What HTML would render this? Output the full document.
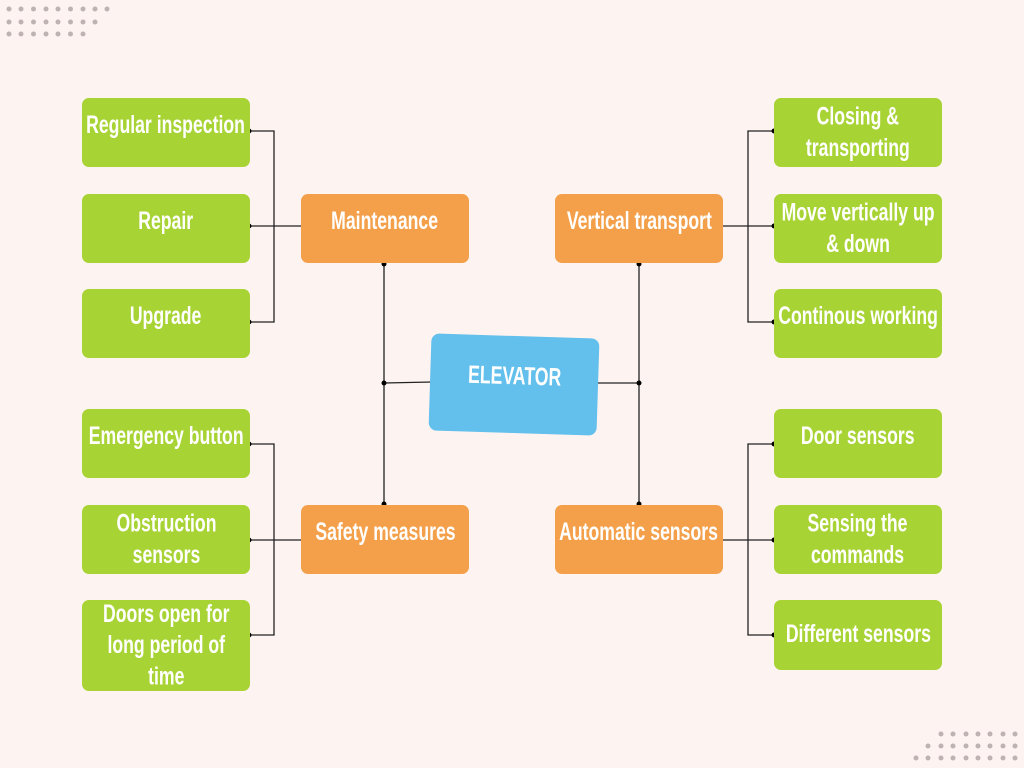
<!DOCTYPE html>
<html><head><meta charset="utf-8"><style>
body{margin:0;width:1024px;height:768px;background:#fdf4f2;position:relative;overflow:hidden;font-family:"Liberation Sans Narrow","Liberation Sans",sans-serif;}
.b{position:absolute;border-radius:7px;display:flex;align-items:center;justify-content:center;text-align:center;color:#fff;font-weight:bold;font-size:21px;line-height:26px;box-sizing:border-box;white-space:nowrap;}
.b span{display:inline-block;transform:scale(0.84,1.2);}
.g{background:#a8d334;width:168px;}
.o{background:#f4a04a;width:168px;}
svg{position:absolute;left:0;top:0}
</style></head><body>
<svg width="1024" height="768">
<g stroke="#222" stroke-width="1.3" fill="none">
<path d="M249 131H274V322H249M249 226H301M249 322H274"/>
<path d="M249 444H274V635H249M249 540H301"/>
<path d="M774 131H748V322H774M774 226H722"/>
<path d="M774 444H748V635H774M774 540H722"/>
<path d="M384 264V504M384 383L432 382"/>
<path d="M639 264V504M597 383H639"/>
</g>
<g fill="#000">
<circle cx="249" cy="131" r="2.5"/><circle cx="249" cy="226" r="2.5"/><circle cx="249" cy="322" r="2.5"/>
<circle cx="249" cy="444" r="2.5"/><circle cx="249" cy="540" r="2.5"/><circle cx="249" cy="635" r="2.5"/>
<circle cx="774" cy="131" r="2.5"/><circle cx="774" cy="226" r="2.5"/><circle cx="774" cy="322" r="2.5"/>
<circle cx="774" cy="444" r="2.5"/><circle cx="774" cy="540" r="2.5"/><circle cx="774" cy="635" r="2.5"/>
<circle cx="384" cy="264" r="2.5"/><circle cx="384" cy="504" r="2.5"/><circle cx="384" cy="383" r="2.5"/>
<circle cx="639" cy="264" r="2.5"/><circle cx="639" cy="504" r="2.5"/><circle cx="639" cy="383" r="2.5"/>
</g>
<g fill="#bfb2b2">
<circle cx="9" cy="9" r="2.5"/><circle cx="21" cy="9" r="2.5"/><circle cx="33.5" cy="9" r="2.5"/><circle cx="46" cy="9" r="2.5"/><circle cx="58" cy="9" r="2.5"/><circle cx="70.5" cy="9" r="2.5"/><circle cx="83" cy="9" r="2.5"/><circle cx="95" cy="9" r="2.5"/><circle cx="107" cy="9" r="2.5"/>
<circle cx="9" cy="22" r="2.5"/><circle cx="21" cy="22" r="2.5"/><circle cx="33.5" cy="22" r="2.5"/><circle cx="46" cy="22" r="2.5"/><circle cx="58" cy="22" r="2.5"/><circle cx="70.5" cy="22" r="2.5"/><circle cx="83" cy="22" r="2.5"/><circle cx="95" cy="22" r="2.5"/>
<circle cx="9" cy="34" r="2.5"/><circle cx="21" cy="34" r="2.5"/><circle cx="33.5" cy="34" r="2.5"/><circle cx="46" cy="34" r="2.5"/><circle cx="58" cy="34" r="2.5"/><circle cx="70.5" cy="34" r="2.5"/><circle cx="83" cy="34" r="2.5"/>
<circle cx="941" cy="734" r="2.5"/><circle cx="953" cy="734" r="2.5"/><circle cx="966" cy="734" r="2.5"/><circle cx="978" cy="734" r="2.5"/><circle cx="990" cy="734" r="2.5"/><circle cx="1003" cy="734" r="2.5"/><circle cx="1015" cy="734" r="2.5"/>
<circle cx="928" cy="746" r="2.5"/><circle cx="941" cy="746" r="2.5"/><circle cx="953" cy="746" r="2.5"/><circle cx="966" cy="746" r="2.5"/><circle cx="978" cy="746" r="2.5"/><circle cx="990" cy="746" r="2.5"/><circle cx="1003" cy="746" r="2.5"/><circle cx="1015" cy="746" r="2.5"/>
<circle cx="916" cy="758" r="2.5"/><circle cx="928" cy="758" r="2.5"/><circle cx="941" cy="758" r="2.5"/><circle cx="953" cy="758" r="2.5"/><circle cx="966" cy="758" r="2.5"/><circle cx="978" cy="758" r="2.5"/><circle cx="990" cy="758" r="2.5"/><circle cx="1003" cy="758" r="2.5"/><circle cx="1015" cy="758" r="2.5"/>
</g>
</svg>

<div class="b g" style="left:82px;top:98px;height:69px;padding-bottom:14px"><span>Regular inspection</span></div>
<div class="b g" style="left:82px;top:194px;height:69px;padding-bottom:14px"><span>Repair</span></div>
<div class="b g" style="left:82px;top:289px;height:69px;padding-bottom:14px"><span>Upgrade</span></div>
<div class="b g" style="left:82px;top:409px;height:69px;padding-bottom:14px"><span>Emergency button</span></div>
<div class="b g" style="left:82px;top:505px;height:69px"><span>Obstruction<br>sensors</span></div>
<div class="b g" style="left:82px;top:600px;height:91px"><span>Doors open for<br>long period of<br>time</span></div>

<div class="b g" style="left:774px;top:98px;height:69px"><span>Closing &amp;<br>transporting</span></div>
<div class="b g" style="left:774px;top:194px;height:69px"><span>Move vertically up<br>&amp; down</span></div>
<div class="b g" style="left:774px;top:289px;height:69px;padding-bottom:14px"><span>Continous working</span></div>
<div class="b g" style="left:774px;top:409px;height:69px;padding-bottom:14px"><span>Door sensors</span></div>
<div class="b g" style="left:774px;top:505px;height:69px"><span>Sensing the<br>commands</span></div>
<div class="b g" style="left:774px;top:600px;height:70px"><span>Different sensors</span></div>

<div class="b o" style="left:301px;top:194px;height:69px;padding-bottom:14px"><span>Maintenance</span></div>
<div class="b o" style="left:555px;top:194px;height:69px;padding-bottom:14px"><span>Vertical transport</span></div>
<div class="b o" style="left:301px;top:505px;height:69px;padding-bottom:14px"><span>Safety measures</span></div>
<div class="b o" style="left:555px;top:505px;height:69px;padding-bottom:14px"><span>Automatic sensors</span></div>

<div class="b" style="left:430px;top:336px;width:168px;height:97px;background:#63bfeb;border-radius:8px;transform:rotate(1.8deg);padding-bottom:16px"><span>ELEVATOR</span></div>
</body></html>
